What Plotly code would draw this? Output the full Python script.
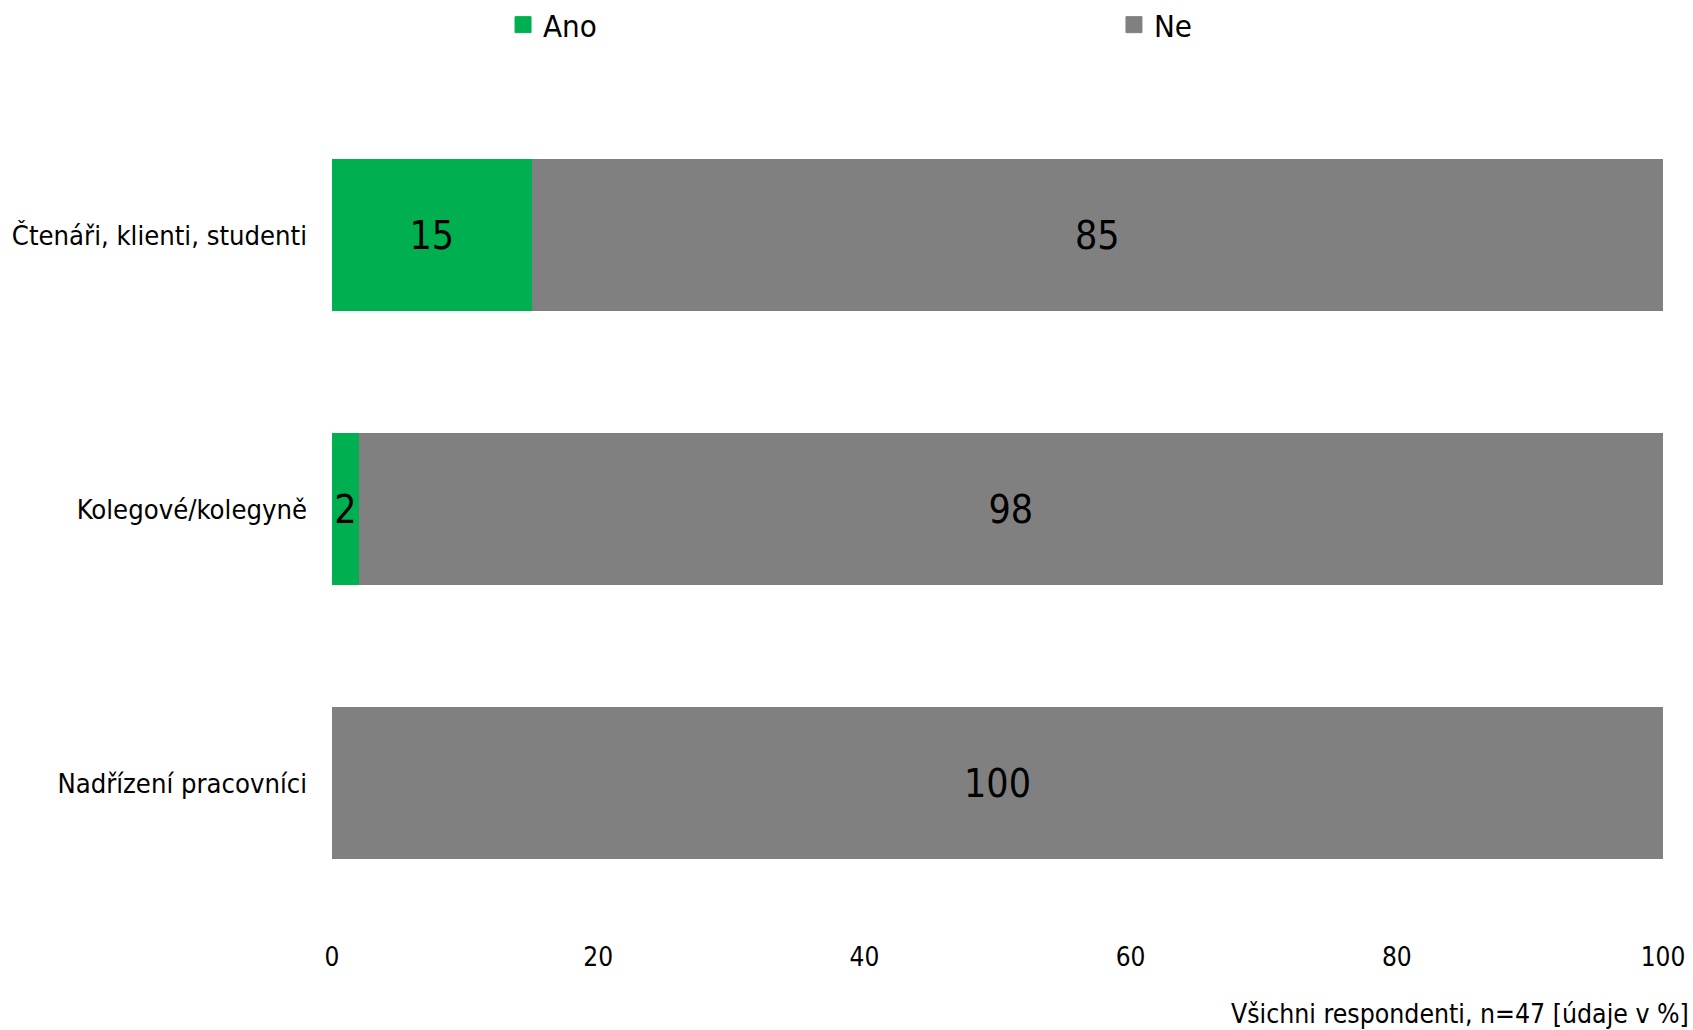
import plotly.graph_objects as go

categories = ["Čtenáři, klienti, studenti", "Kolegové/kolegyně", "Nadřízení pracovníci"]
ano_values = [15, 2, 0]
ne_values = [85, 98, 100]
x_ticks = [0, 20, 40, 60, 80, 100]
caption = "Všichni respondenti, n=47 [údaje v %]"

FONT = "DejaVu Sans Condensed, DejaVu Sans, sans-serif"
GREEN = "#00B050"
GRAY = "#808080"


def labels(vals):
    return [str(v) if v else "" for v in vals]


fig = go.Figure()
series = [("Ano", ano_values, GREEN, "legend"), ("Ne", ne_values, GRAY, "legend2")]
for name, vals, color, leg in series:
    fig.add_trace(go.Bar(
        y=categories, x=vals, name=name, orientation="h",
        marker=dict(color=color, line=dict(width=0)),
        text=labels(vals), textposition="inside", insidetextanchor="middle",
        textfont=dict(family=FONT, size=39, color="black"),
        hoverinfo="skip", showlegend=False, legendgroup=name,
    ))
for name, vals, color, leg in series:
    # legend-only entry (no data points) to get a larger square key
    fig.add_trace(go.Scatter(
        x=[None], y=[None], mode="markers", name=name,
        marker=dict(symbol="square", size=16, color=color, line=dict(width=1, color=color)),
        showlegend=True, legend=leg, legendgroup=name, hoverinfo="skip",
    ))

legend_common = dict(
    orientation="h", yanchor="middle", y=1.0888, xanchor="left",
    font=dict(family=FONT, size=31, color="black"),
    itemclick=False, itemdoubleclick=False, bgcolor="rgba(0,0,0,0)",
)

fig.update_layout(
    width=1693, height=1030,
    barmode="stack",
    bargap=0.445,
    plot_bgcolor="white", paper_bgcolor="white",
    margin=dict(l=332, r=30, t=98, b=110, autoexpand=False),
    font=dict(family=FONT, size=27, color="black"),
    uniformtext=dict(minsize=39, mode="show"),
    showlegend=True,
    legend=dict(x=0.1285, **legend_common),
    legend2=dict(x=0.5875, **legend_common),
    xaxis=dict(
        range=[0, 100], tickvals=x_ticks, ticktext=[str(t) for t in x_ticks],
        showgrid=False, zeroline=False, showline=False, ticks="",
        tickfont=dict(family=FONT, size=26, color="black"),
        ticklabelstandoff=19, fixedrange=True,
    ),
    yaxis=dict(
        autorange="reversed", showgrid=False, zeroline=False, showline=False,
        ticks="", tickfont=dict(family=FONT, size=27.2, color="black"),
        ticklabelstandoff=24, fixedrange=True,
    ),
    annotations=[dict(
        text=caption, xref="paper", yref="paper", x=1.021, y=-0.1135,
        xanchor="right", yanchor="middle", showarrow=False,
        font=dict(family=FONT, size=26.4, color="black"),
    )],
)

fig.write_html(
    "out.html",
    config={"displayModeBar": False},
    post_script="document.body.style.margin='0';document.body.style.overflow='hidden';",
)
